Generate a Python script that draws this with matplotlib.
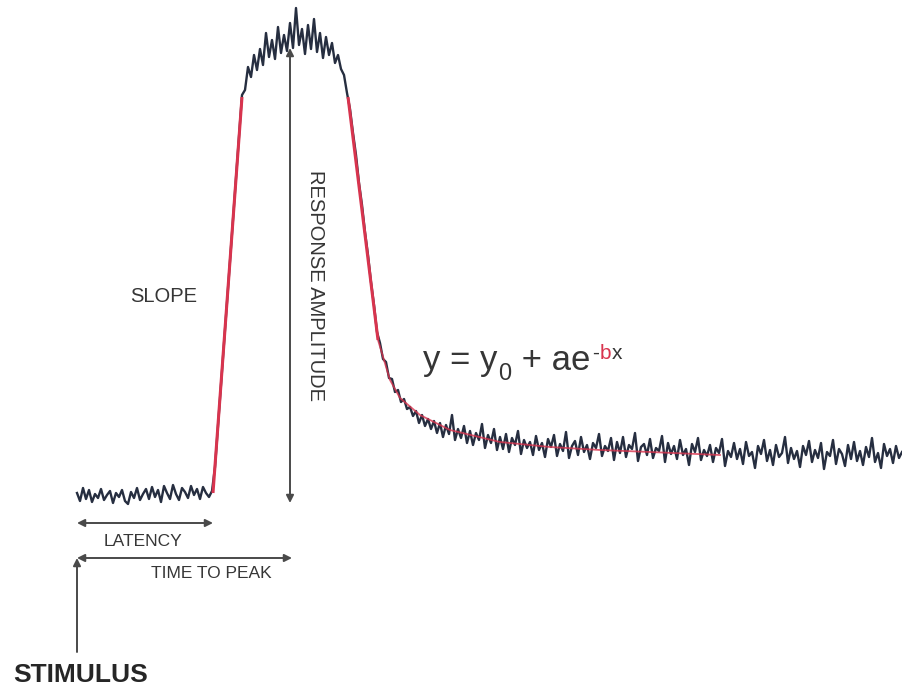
import numpy as np
import matplotlib
matplotlib.use("Agg")
import matplotlib.pyplot as plt
from matplotlib import transforms as mtransforms

plt.rcParams['font.family'] = ['Liberation Sans', 'DejaVu Sans']

# Recorded response, one sample every 3 time units, stimulus at t = 0
sample_step = 3

baseline_trace = [2, -6, 7, -4, 5, -7, 1, -3, 6, -5, 0, 4, -8, 2, -2, 5, -6, -9, 3, -3,
                  7, -5, 1, 6, -4, 8, -2, 5, -7, 9, 2, -4, 10, 1, -5, 7, 3, -3, 9, 0,
                  6, -4, 8, 2, -2, 4]
rise_trace = [28, 69, 110, 152, 193, 234, 276, 317, 358, 400]
peak_trace = [405, 428, 418, 440, 425, 446, 430, 462, 438, 455, 436, 468, 442, 460, 444,
              472, 447, 487, 450, 466, 441, 470, 446, 476, 443, 462, 437, 458, 440, 452,
              432, 440, 426, 420, 402]
fall_trace = [386, 362, 340, 312, 290, 263, 240, 213, 190, 163]
tail_trace = [152, 136, 133, 117, 116, 103, 105, 93, 96, 86,
              88, 79, 84, 72, 80, 69, 76, 66, 74, 62,
              72, 58, 70, 61, 80, 55, 66, 57, 69, 52,
              64, 50, 62, 55, 71, 47, 60, 52, 66, 45,
              58, 46, 61, 43, 57, 50, 64, 41, 55, 47,
              53, 40, 59, 45, 52, 38, 56, 48, 60, 39,
              51, 44, 63, 37, 49, 54, 40, 58, 43, 50,
              36, 52, 47, 61, 39, 49, 44, 57, 35, 53,
              42, 58, 38, 50, 46, 62, 34, 48, 51, 40,
              56, 37, 47, 44, 59, 33, 52, 41, 49, 36,
              55, 40, 46, 30, 51, 43, 57, 35, 45, 39,
              50, 33, 47, 42, 56, 29, 44, 38, 52, 36,
              46, 31, 53, 39, 43, 27, 49, 41, 55, 34,
              45, 30, 50, 38, 42, 58, 32, 47, 36, 44,
              28, 49, 40, 54, 33, 45, 37, 52, 26, 43,
              39, 55, 31, 46, 41, 29, 50, 36, 53, 34,
              44, 30, 48, 38, 57, 33, 42, 27, 51, 39,
              46, 32, 49, 37, 43]

# Fitted segments
rise_fit_t = [136, 165]
rise_fit_r = [2, 398]
fall_fit_t = [271, 301]
fall_fit_r = [398, 155]
decay_fit_t = [301, 313, 323, 343, 373, 423, 473, 523, 573, 643]
decay_fit_r = [155, 115, 97, 80, 65, 53, 48, 45, 43, 40]

# Measured intervals
latency_t = 136
peak_t = 213
peak_r = 447
stimulus_t = 0

trace = np.concatenate([baseline_trace, rise_trace, peak_trace, fall_trace, tail_trace])
time = np.arange(len(trace)) * sample_step

fig = plt.figure(figsize=(9.03, 6.88), dpi=100)
ax = fig.add_axes([0, 0, 1, 1])
ax.set_xlim(-77, 826)
ax.set_ylim(-193, 495)
ax.axis('off')

trace_color = '#262e40'
fit_color = '#d8344e'
ann_color = '#4a4a4a'
text_color = '#363636'

ax.plot(time, trace, color=trace_color, lw=1.7, zorder=3)
ax.plot(rise_fit_t, rise_fit_r, color=fit_color, lw=2.2, zorder=4, solid_capstyle='butt')
ax.plot(fall_fit_t, fall_fit_r, color=fit_color, lw=2.2, zorder=4, solid_capstyle='butt')
ax.plot(decay_fit_t, decay_fit_r, color=fit_color, lw=1.3, alpha=0.8, zorder=4)

arrow_kw = dict(arrowstyle='<|-|>', color=ann_color, lw=1.4, mutation_scale=11,
                shrinkA=0, shrinkB=0)
# latency
ax.annotate('', xy=(stimulus_t, -28), xytext=(latency_t, -28), arrowprops=arrow_kw)
# time to peak
ax.annotate('', xy=(stimulus_t, -63), xytext=(peak_t + 2, -63), arrowprops=arrow_kw)
# response amplitude
ax.annotate('', xy=(peak_t, -8), xytext=(peak_t, peak_r), arrowprops=arrow_kw, zorder=2)
# stimulus
ax.annotate('', xy=(stimulus_t, -63), xytext=(stimulus_t, -157),
            arrowprops=dict(arrowstyle='-|>', color=ann_color, lw=1.4, mutation_scale=11,
                            shrinkA=0, shrinkB=0))

ax.text(87, 199, 'SLOPE', fontsize=14.5, color=text_color, ha='center', va='center')
ax.text(239, 210, 'RESPONSE AMPLITUDE', fontsize=14.5, color=text_color,
        ha='center', va='center', rotation=-90)
ax.text(66, -46.5, 'LATENCY', fontsize=12.5, color=text_color, ha='center', va='center')
ax.text(134, -79, 'TIME TO PEAK', fontsize=12.5, color=text_color, ha='center', va='center')
ax.text(4, -180, 'STIMULUS', fontsize=19, fontweight='bold', color='#262626',
        ha='center', va='center')

# Fit equation, built piece by piece along a common baseline
renderer = fig.canvas.get_renderer()
x0, y0 = ax.transData.transform((346, 125))
pieces = [('y = y', 25, 0, text_color),
          ('0', 17, -10, text_color),
          (' + ae', 25, 0, text_color),
          ('-', 15, 11, text_color),
          ('b', 15, 11, fit_color),
          ('x', 15, 11, text_color)]
ident = mtransforms.IdentityTransform()
cx = x0
for s, size, dy, col in pieces:
    t = ax.text(cx, y0 + dy, s, fontsize=size, color=col, ha='left', va='baseline',
                transform=ident)
    cx += t.get_window_extent(renderer).width + 1

fig.savefig('out.png', dpi=100, facecolor='white')
